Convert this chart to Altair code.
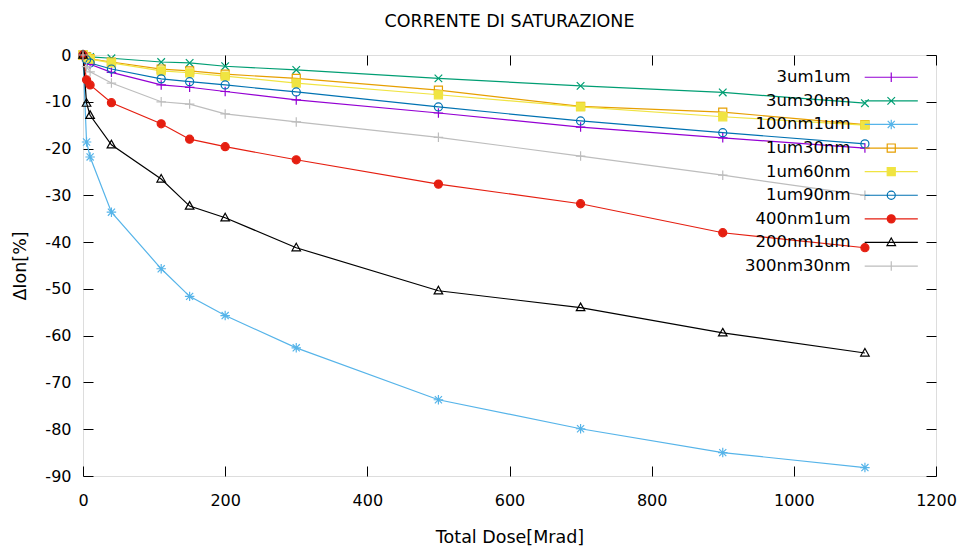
import altair as alt
import pandas as pd

# ---- data ----
dose = [0, 5, 10, 40, 110, 150, 200, 300, 500, 700, 900, 1100]
series_names = ["3um1um", "3um30nm", "100nm1um", "1um30nm", "1um60nm",
                "1um90nm", "400nm1um", "200nm1um", "300nm30nm"]
s_3um1um = [0, -1.2, -2.0, -3.7, -6.4, -6.9, -7.8, -9.6, -12.4, -15.4, -17.7, -19.9]
s_3um30nm = [0, -0.2, -0.4, -0.7, -1.5, -1.7, -2.4, -3.2, -5.0, -6.6, -8.0, -10.3]
s_100nm1um = [0, -18.6, -21.8, -33.6, -45.7, -51.6, -55.7, -62.6, -73.7, -79.9, -85.0, -88.2]
s_1um30nm = [0, -0.4, -0.8, -1.5, -3.0, -3.4, -4.1, -5.0, -7.5, -11.0, -12.2, -14.9]
s_1um60nm = [0, -0.5, -0.9, -1.7, -3.4, -3.8, -4.5, -6.0, -8.5, -11.1, -13.2, -15.0]
s_1um90nm = [0, -1.0, -1.7, -3.0, -5.1, -5.7, -6.4, -7.9, -11.1, -14.1, -16.6, -19.0]
s_400nm1um = [0, -5.3, -6.4, -10.2, -14.7, -18.0, -19.6, -22.4, -27.6, -31.8, -38.0, -41.2]
s_200nm1um = [0, -10.3, -12.9, -19.2, -26.5, -32.3, -34.8, -41.2, -50.4, -54.0, -59.4, -63.7]
s_300nm30nm = [0, -2.5, -3.6, -6.0, -10.0, -10.5, -12.6, -14.3, -17.6, -21.6, -25.7, -30.0]
values = [s_3um1um, s_3um30nm, s_100nm1um, s_1um30nm, s_1um60nm,
          s_1um90nm, s_400nm1um, s_200nm1um, s_300nm30nm]

x_ticks = [0, 200, 400, 600, 800, 1000, 1200]
y_ticks = [-90, -80, -70, -60, -50, -40, -30, -20, -10, 0]

# ---- styles ----
colors = ["#9400d3", "#009e73", "#56b4e9", "#e69f00", "#f0e442",
          "#0072b2", "#e51e10", "#000000", "#bdbdbd"]
P_PLUS = "M-1,0H1M0,-1V1"
P_X = "M-0.8,-0.8L0.8,0.8M-0.8,0.8L0.8,-0.8"
P_STAR = "M-1,0H1M0,-1V1M-0.75,-0.75L0.75,0.75M-0.75,0.75L0.75,-0.75"
P_SQ = "M-0.85,-0.85H0.85V0.85H-0.85Z"
P_CIRC = "M0.85,0A0.85,0.85,0,1,1,-0.85,0A0.85,0.85,0,1,1,0.85,0Z"
P_TRI = "M0,-0.95L0.9,0.65H-0.9Z"
shapes = [P_PLUS, P_X, P_STAR, P_SQ, P_SQ, P_CIRC, P_CIRC, P_TRI, P_PLUS]
legend_shapes = ["M-5.6,0H5.6" + p for p in shapes]
fills = ["transparent", "transparent", "transparent", "transparent", "#f0e442",
         "transparent", "#e51e10", "transparent", "transparent"]

rows = []
for name, vals in zip(series_names, values):
    for d, v in zip(dose, vals):
        rows.append({"dose": d, "val": v, "series": name})
df = pd.DataFrame(rows)

FONT = "DejaVu Sans"

xscale = alt.Scale(domain=[0, 1200], nice=False, zero=False)
yscale = alt.Scale(domain=[-90, 0], nice=False, zero=False)

legend = alt.Legend(
    title=None, orient="none", legendX=800, legendY=14, direction="vertical",
    labelAlign="right", labelOffset={"expr": "-49"}, labelFontSize=16.5, labelFont=FONT,
    labelColor="#000000", labelLimit=300,
    symbolSize=90, symbolStrokeWidth=1.2, rowPadding=6.6, padding=0,
)

common_axis = dict(domain=False, grid=False, tickSize=10, offset=-10, tickColor="#000000",
                   tickWidth=1, labelFont=FONT, labelFontSize=16, labelColor="#000000",
                   titleFont=FONT, titleFontSize=17.5, titleFontWeight="normal",
                   titleColor="#000000", labelFlush=False, labelExpr="'' + datum.value")

lines = alt.Chart(df).mark_line(strokeWidth=1.2).encode(
    x=alt.X("dose:Q", scale=xscale,
            axis=alt.Axis(orient="bottom", values=x_ticks, title="Total Dose[Mrad]",
                          labelPadding=16, titlePadding=20, **common_axis)),
    y=alt.Y("val:Q", scale=yscale,
            axis=alt.Axis(orient="left", values=y_ticks, title="ΔIon[%]",
                          labelPadding=12, titlePadding=15, **common_axis)),
    color=alt.Color("series:N", scale=alt.Scale(domain=series_names, range=colors), legend=None),
    order=alt.Order("dose:Q"),
)

mirror_axis = dict(common_axis)
mirror_axis.update(labels=False, title=None)

points = alt.Chart(df).mark_point(size=90, strokeWidth=1.2, opacity=1, filled=True).encode(
    x=alt.X("dose:Q", scale=xscale, axis=alt.Axis(orient="top", values=x_ticks, **mirror_axis)),
    y=alt.Y("val:Q", scale=yscale, axis=alt.Axis(orient="right", values=y_ticks, **mirror_axis)),
    stroke=alt.Stroke("series:N", scale=alt.Scale(domain=series_names, range=colors), legend=None),
    shape=alt.Shape("series:N", scale=alt.Scale(domain=series_names, range=shapes), legend=None),
    fill=alt.Fill("series:N", scale=alt.Scale(domain=series_names, range=fills), legend=None),
)

# legend-only layer (no rows drawn): its scales carry the gnuplot-style key
key = alt.Chart(df).transform_filter("datum.dose < 0").mark_point(
    size=90, strokeWidth=1.2, opacity=1, filled=True).encode(
    x=alt.X("dose:Q", scale=xscale, axis=None),
    y=alt.Y("val:Q", scale=yscale, axis=None),
    stroke=alt.Stroke("series:N", scale=alt.Scale(domain=series_names, range=colors), legend=legend),
    shape=alt.Shape("series:N", scale=alt.Scale(domain=series_names, range=legend_shapes), legend=legend),
    fill=alt.Fill("series:N", scale=alt.Scale(domain=series_names, range=fills), legend=legend),
)

chart = alt.layer(lines, points, key).resolve_scale(
    stroke="independent", shape="independent", fill="independent"
).properties(
    width=853, height=421,
    title=alt.TitleParams("CORRENTE DI SATURAZIONE", font=FONT, fontSize=17.5,
                          fontWeight="normal", color="#000000", offset=17, anchor="middle"),
    autosize=alt.AutoSizeParams(type="none"),
    padding={"left": 83, "top": 55, "right": 25, "bottom": 70},
).configure_view(stroke="#000000", strokeWidth=1).configure(background="white")

chart.save("out.html", embed_options={"renderer": "svg", "actions": False})
